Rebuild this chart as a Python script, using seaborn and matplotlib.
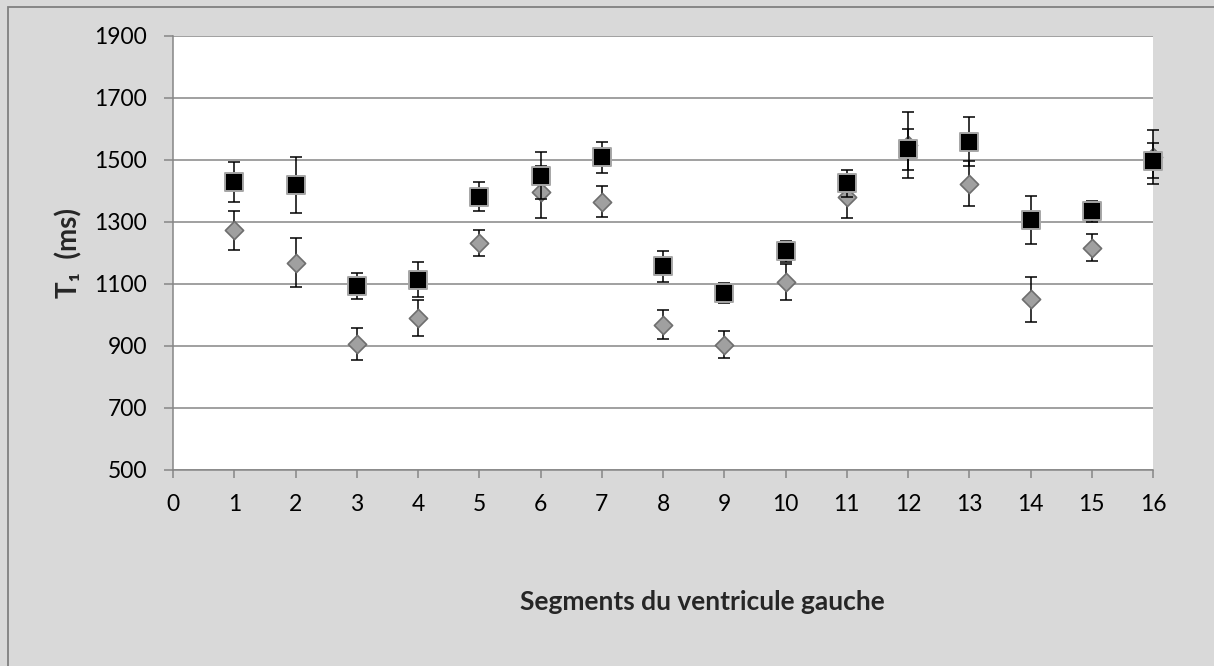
import matplotlib
matplotlib.use('Agg')
import matplotlib.pyplot as plt
import seaborn as sns
import pandas as pd
from matplotlib.patches import Rectangle

# T1 values per left-ventricle segment
segments = list(range(1, 17))
square_mean = [1430, 1419, 1094, 1114, 1382, 1450, 1509, 1157, 1071, 1205, 1425, 1535, 1559, 1307, 1334, 1498]
square_err = [65, 90, 43, 56, 47, 75, 50, 50, 33, 35, 43, 66, 79, 78, 33, 57]
diamond_mean = [1273, 1169, 906, 991, 1233, 1397, 1365, 968, 904, 1107, 1380, 1548, 1424, 1051, 1217, 1509]
diamond_err = [63, 80, 51, 58, 42, 83, 50, 47, 44, 59, 66, 106, 72, 73, 43, 87]

x_ticks = list(range(0, 17))
y_ticks = [500, 700, 900, 1100, 1300, 1500, 1700, 1900]

df_sq = pd.DataFrame({'segment': segments, 't1': square_mean, 'err': square_err})
df_di = pd.DataFrame({'segment': segments, 't1': diamond_mean, 'err': diamond_err})

sns.set_style('white')
plt.rcParams['font.family'] = ['Lato', 'DejaVu Sans']

bg = '#D9D9D9'
grid_col = '#868686'

fig = plt.figure(figsize=(12.14, 6.66), dpi=100, facecolor=bg)
ax = fig.add_axes([173 / 1214, 1 - 470 / 666, 980 / 1214, 434 / 666])
ax.set_facecolor('white')

# chart border (only top and left visible in the crop)
fig.add_artist(Rectangle((7.5 / 1214, -0.5), 2, 1.5 - 6.5 / 666, transform=fig.transFigure,
                         fill=False, edgecolor='#808080', lw=1.3))

# diamonds series
ax.errorbar(df_di['segment'], df_di['t1'], yerr=df_di['err'], fmt='none', ecolor='black',
            elinewidth=1.1, capsize=4.5, capthick=1.1, clip_on=False, zorder=3)
sns.scatterplot(data=df_di, x='segment', y='t1', marker='D', s=86, color='#A0A0A0',
                edgecolor='#6E6E6E', linewidth=1.2, clip_on=False, zorder=4, ax=ax)

# squares series
ax.errorbar(df_sq['segment'], df_sq['t1'], yerr=df_sq['err'], fmt='none', ecolor='black',
            elinewidth=1.1, capsize=4.5, capthick=1.1, clip_on=False, zorder=5)
sns.scatterplot(data=df_sq, x='segment', y='t1', marker='s', s=155, color='black',
                edgecolor='#A6A6A6', linewidth=1.4, clip_on=False, zorder=6, ax=ax)

ax.set_xlim(0, 16)
ax.set_ylim(500, 1900)
ax.set_xticks(x_ticks)
ax.set_yticks(y_ticks)

ax.grid(axis='y', color=grid_col, lw=1.1)
ax.grid(axis='x', visible=False)
ax.set_axisbelow(True)
for side in ['top', 'right']:
    ax.spines[side].set_visible(False)
for side in ['left', 'bottom']:
    ax.spines[side].set_color(grid_col)
    ax.spines[side].set_linewidth(1.1)

ax.tick_params(axis='y', direction='out', length=6.5, width=1.1, color=grid_col,
               labelsize=16.5, labelcolor='black', pad=12, left=True)
ax.tick_params(axis='x', direction='out', length=5.5, width=1.1, color=grid_col,
               labelsize=16.5, labelcolor='black', pad=12, bottom=True)

ax.set_xlabel('Segments du ventricule gauche', fontsize=19, fontweight='bold', va='center')
ax.xaxis.set_label_coords(0.54, (470 - 602) / 434)
ax.set_ylabel('T\u2081  (ms)', fontsize=20, fontweight='bold', va='center')
ax.yaxis.set_label_coords((69 - 173) / 980, 0.5)

fig.savefig('out.png', dpi=100, facecolor=bg)
